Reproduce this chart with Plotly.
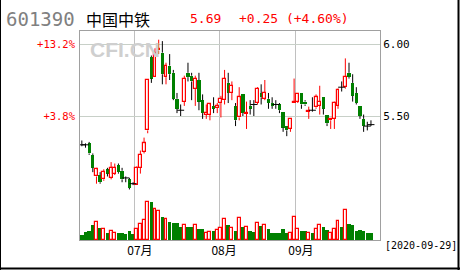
import plotly.graph_objects as go

# ---------------- data ----------------
stock_code = "601390"
stock_name = "中国中铁"
quote_price = 5.69
quote_change = 0.25
quote_pct = 4.60
end_date = "2020-09-29"
watermark = "CFI.CN"

opens = [5.30, 5.30, 5.31, 5.23, 5.08, 5.09, 5.06, 5.13, 5.07, 5.10,
         5.16, 5.12, 5.07, 5.06, 5.03, 5.02, 5.14, 5.25, 5.40, 5.91,
         5.77, 5.955, 5.94, 5.77, 5.85, 5.80, 5.62, 5.54, 5.60, 5.80,
         5.78, 5.69, 5.75, 5.61, 5.51, 5.51, 5.57, 5.555, 5.59, 5.61,
         5.73, 5.66, 5.57, 5.49, 5.65, 5.515, 5.57, 5.58, 5.59, 5.66,
         5.62, 5.62, 5.59, 5.58, 5.58, 5.53, 5.43, 5.41, 5.59, 5.60,
         5.66, 5.60, 5.53, 5.54, 5.56, 5.57, 5.63, 5.51, 5.47, 5.48,
         5.57, 5.70, 5.70, 5.80, 5.73, 5.66, 5.57, 5.48, 5.43, 5.44]
highs = [5.33, 5.31, 5.32, 5.24, 5.14, 5.11, 5.13, 5.14, 5.18, 5.17,
         5.17, 5.14, 5.08, 5.07, 5.04, 5.15, 5.26, 5.35, 5.75, 5.92,
         5.97, 6.03, 6.02, 5.87, 5.93, 5.82, 5.66, 5.58, 5.78, 5.87,
         5.80, 5.78, 5.80, 5.65, 5.58, 5.585, 5.63, 5.59, 5.64, 5.82,
         5.80, 5.74, 5.59, 5.70, 5.65, 5.60, 5.61, 5.61, 5.70, 5.72,
         5.75, 5.66, 5.63, 5.61, 5.59, 5.53, 5.43, 5.48, 5.76, 5.65,
         5.66, 5.61, 5.565, 5.63, 5.65, 5.71, 5.63, 5.51, 5.485, 5.60,
         5.69, 5.74, 5.90, 5.87, 5.79, 5.70, 5.57, 5.51, 5.46, 5.47]
lows = [5.29, 5.28, 5.23, 5.11, 5.03, 5.03, 5.05, 5.08, 5.06, 5.09,
        5.10, 5.04, 5.04, 4.99, 5.02, 5.02, 5.10, 5.24, 5.38, 5.73,
        5.77, 5.93, 5.72, 5.72, 5.75, 5.61, 5.52, 5.50, 5.57, 5.74,
        5.61, 5.57, 5.54, 5.48, 5.48, 5.47, 5.52, 5.52, 5.49, 5.58,
        5.59, 5.61, 5.43, 5.47, 5.50, 5.41, 5.51, 5.50, 5.58, 5.58,
        5.61, 5.55, 5.55, 5.55, 5.52, 5.39, 5.36, 5.39, 5.59, 5.59,
        5.55, 5.57, 5.48, 5.53, 5.55, 5.51, 5.51, 5.43, 5.41, 5.41,
        5.55, 5.67, 5.69, 5.76, 5.60, 5.58, 5.48, 5.39, 5.40, 5.43]
closes = [5.30, 5.30, 5.24, 5.14, 5.13, 5.04, 5.11, 5.10, 5.14, 5.14,
          5.11, 5.06, 5.07, 5.00, 5.03, 5.14, 5.23, 5.31, 5.75, 5.76,
          5.94, 5.965, 5.79, 5.85, 5.79, 5.62, 5.55, 5.54, 5.76, 5.77,
          5.74, 5.76, 5.60, 5.52, 5.52, 5.58, 5.55, 5.57, 5.62, 5.76,
          5.66, 5.71, 5.47, 5.63, 5.52, 5.52, 5.55, 5.58, 5.69, 5.63,
          5.66, 5.59, 5.57, 5.58, 5.54, 5.42, 5.40, 5.48, 5.595, 5.65,
          5.58, 5.58, 5.535, 5.54, 5.63, 5.60, 5.55, 5.45, 5.48, 5.59,
          5.68, 5.70, 5.77, 5.77, 5.64, 5.59, 5.50, 5.43, 5.43, 5.44]
volumes = [16, 24, 26, 44, 54, 36, 34, 20, 28, 22,
           22, 22, 18, 26, 18, 34, 48, 60, 114, 114,
           94, 86, 70, 64, 54, 52, 52, 38, 46, 40,
           40, 46, 34, 32, 22, 24, 28, 30, 37, 63,
           44, 36, 28, 66, 40, 40, 26, 24, 52, 42,
           46, 32, 22, 20, 22, 34, 20, 22, 70, 34,
           26, 28, 22, 20, 34, 44, 38, 30, 22, 34,
           58, 38, 90, 48, 44, 26, 30, 28, 20, 20]

month_start_idx = [15, 38, 59]
month_labels = ["07月", "08月", "09月"]
price_ticks = [5.50, 6.00]

# ---------------- styling ----------------
RED = "#ff0000"
GREEN = "#008000"
MONO = "DejaVu Sans Mono"
CJK = "Noto Sans CJK SC"

n = len(closes)
idx = list(range(n))
base_price = closes[0]

up = [i for i in idx if closes[i] > opens[i]]
down = [i for i in idx if closes[i] < opens[i]]
doji = [i for i in idx if closes[i] == opens[i]]


def wick_segments(ids, kind):
    xs, ys = [], []
    for i in ids:
        top = max(opens[i], closes[i])
        bot = min(opens[i], closes[i])
        if kind == "full":
            xs += [i, i, None]
            ys += [lows[i], highs[i], None]
        else:
            if highs[i] > top:
                xs += [i, i, None]
                ys += [top, highs[i], None]
            if lows[i] < bot:
                xs += [i, i, None]
                ys += [lows[i], bot, None]
    return xs, ys


fig = go.Figure()

# volume bars (overlay axis y2)
vol_up = [i for i in idx if closes[i] > opens[i]]
vol_dn = [i for i in idx if closes[i] <= opens[i]]
fig.add_trace(go.Bar(x=vol_dn, y=[volumes[i] for i in vol_dn], yaxis="y2",
                     width=0.95, marker=dict(color=GREEN, line=dict(width=0)),
                     hoverinfo="skip"))
fig.add_trace(go.Bar(x=vol_up, y=[volumes[i] for i in vol_up], yaxis="y2",
                     width=0.8, marker=dict(color="white", line=dict(color=RED, width=1.2)),
                     hoverinfo="skip"))

# candle bodies
fig.add_trace(go.Bar(x=down, y=[opens[i] - closes[i] for i in down],
                     base=[closes[i] for i in down], width=0.9,
                     marker=dict(color=GREEN, line=dict(width=0)), hoverinfo="skip"))
fig.add_trace(go.Bar(x=up, y=[closes[i] - opens[i] for i in up],
                     base=[opens[i] for i in up], width=0.8,
                     marker=dict(color="white", line=dict(color=RED, width=1.2)),
                     hoverinfo="skip"))

# wicks
wx, wy = wick_segments(up, "split")
fig.add_trace(go.Scatter(x=wx, y=wy, mode="lines", line=dict(color=RED, width=1),
                         hoverinfo="skip"))
wx, wy = wick_segments(down, "split")
fig.add_trace(go.Scatter(x=wx, y=wy, mode="lines", line=dict(color="black", width=1),
                         hoverinfo="skip"))
wx, wy = wick_segments(doji, "full")
fig.add_trace(go.Scatter(x=wx, y=wy, mode="lines", line=dict(color="black", width=1),
                         hoverinfo="skip"))
fig.add_trace(go.Scatter(x=doji, y=[closes[i] for i in doji], mode="markers",
                         marker=dict(symbol="line-ew", size=5,
                                     line=dict(color="black", width=1)),
                         hoverinfo="skip"))

# anchor trace for percent axis
fig.add_trace(go.Scatter(x=[0], y=[base_price], yaxis="y3", mode="markers",
                         marker=dict(opacity=0), hoverinfo="skip"))

price_range = [4.6389, 6.0903]
pct_text = ["%+.1f%%" % ((v / base_price - 1) * 100) for v in price_ticks]

GRID = "#c8d0c8"
BORDER = "#a0a0a0"

fig.update_layout(
    width=460, height=270,
    margin=dict(l=80, r=80, t=31, b=30),
    paper_bgcolor="white", plot_bgcolor="white",
    showlegend=False, barmode="overlay", bargap=0,
    xaxis=dict(range=[-0.5, 81.47], tickmode="array",
               tickvals=[m - 0.5 for m in month_start_idx], ticktext=month_labels,
               showgrid=True, gridcolor="#c0c0c0", gridwidth=1,
               showline=True, mirror=True, linecolor=BORDER, linewidth=1,
               zeroline=False, ticks="", ticklabelshift=5,
               tickfont=dict(family=CJK, size=12, color="black")),
    yaxis=dict(range=price_range, side="right", tickmode="array",
               tickvals=price_ticks, ticktext=["%.2f" % v for v in price_ticks],
               showgrid=True, gridcolor=GRID, gridwidth=1,
               showline=True, mirror=True, linecolor=BORDER, linewidth=1,
               zeroline=False, ticks="",
               tickfont=dict(family=MONO, size=11, color="black")),
    yaxis2=dict(overlaying="y", range=[0, 627], visible=False),
    yaxis3=dict(overlaying="y", side="left", range=price_range, tickmode="array",
                tickvals=price_ticks, ticktext=pct_text, showgrid=False,
                showline=False, zeroline=False, ticks="", ticklabelstandoff=4,
                tickfont=dict(family=MONO, size=10.5, color=RED)),
)

# header texts
fig.add_annotation(text=stock_code, xref="paper", yref="paper", x=(4 - 80) / 300,
                   y=(240 - 19) / 209, xanchor="left", yanchor="middle", showarrow=False,
                   font=dict(family=MONO, size=19, color="#808080"))
fig.add_annotation(text=stock_name, xref="paper", yref="paper", x=(84 - 80) / 300,
                   y=(240 - 19) / 209, xanchor="left", yanchor="middle", showarrow=False,
                   font=dict(family=CJK, size=16, color="black"))
fig.add_annotation(text="%.2f" % quote_price, xref="paper", yref="paper", x=(188 - 80) / 300,
                   y=(240 - 19) / 209, xanchor="left", yanchor="middle", showarrow=False,
                   font=dict(family=MONO, size=13, color=RED))
fig.add_annotation(text="%+.2f (%+.2f%%)" % (quote_change, quote_pct), xref="paper", yref="paper",
                   x=(237 - 80) / 300, y=(240 - 19) / 209, xanchor="left", yanchor="middle",
                   showarrow=False, font=dict(family=MONO, size=13, color=RED))
fig.add_annotation(text="[%s]" % end_date, xref="paper", yref="paper", x=(383 - 80) / 300,
                   y=(240 - 246) / 209, xanchor="left", yanchor="middle", showarrow=False,
                   font=dict(family=MONO, size=10, color="black"))
fig.add_annotation(text="<b>%s</b>" % watermark, xref="paper", yref="paper",
                   x=(125 - 80) / 300, y=(240 - 49) / 209, xanchor="center", yanchor="middle",
                   showarrow=False, font=dict(family="Liberation Sans", size=21, color="#cfcfcf"))

# outer frame (left, right, bottom)
for x0, y0, x1, y1 in [(-80 / 300, -30 / 209, -80 / 300, 240 / 209),
                       ((458.5 - 80) / 300, -30 / 209, (458.5 - 80) / 300, 240 / 209),
                       (-80 / 300, (240 - 268.5) / 209, 380 / 300, (240 - 268.5) / 209)]:
    fig.add_shape(type="line", xref="paper", yref="paper", x0=x0, y0=y0, x1=x1, y1=y1,
                  line=dict(color="black", width=2))

fig.write_html("out.html")
